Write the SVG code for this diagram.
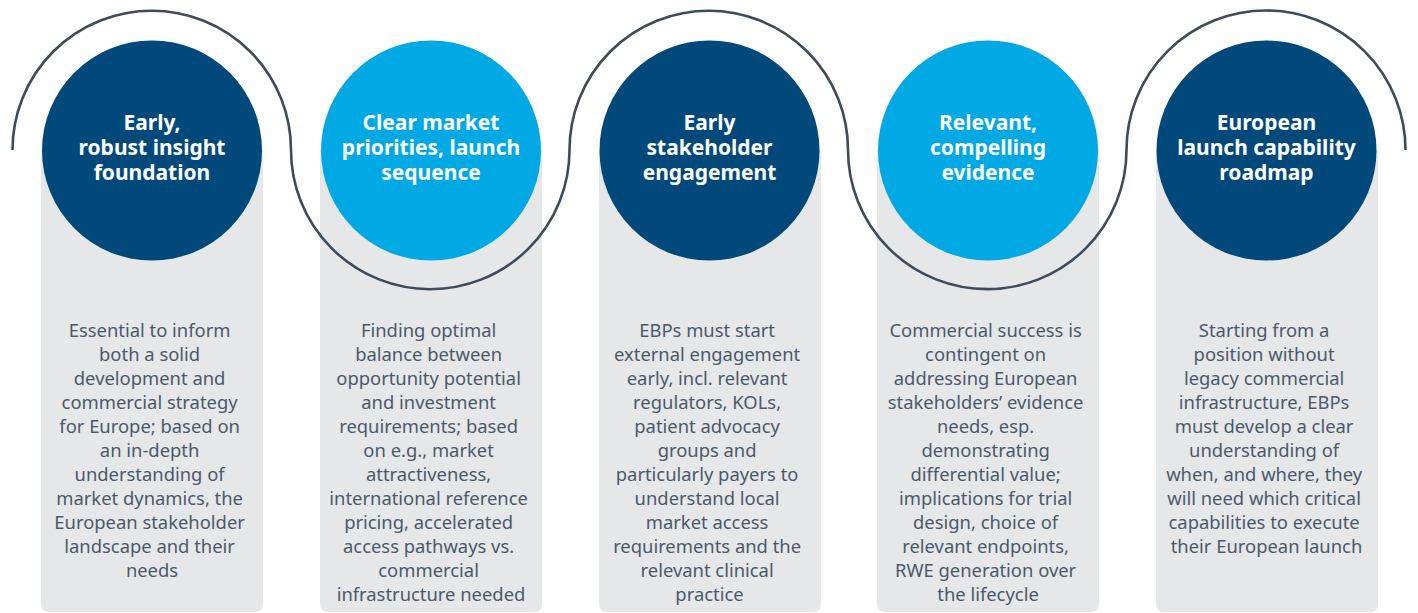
<svg xmlns="http://www.w3.org/2000/svg" width="1418" height="613" viewBox="0 0 1418 613">
<style>
.panel{fill:#e6e7e9}
.dark{fill:#02497b}
.light{fill:#00a9e3}
.wave{fill:none;stroke:#3d4c5c;stroke-width:2.6}
.head{font-family:"Noto Sans","Open Sans",sans-serif;font-weight:700;font-size:21px;fill:#ffffff;text-anchor:middle}
.body{font-family:"Noto Sans","Open Sans",sans-serif;font-size:18.4px;fill:#4a5a6b;text-anchor:middle}
</style>
<rect width="1418" height="613" fill="#ffffff"/>
<g id="panels">
<path class="panel" d="M41,150 H263 V604 Q263,612 255,612 H49 Q41,612 41,604 Z"/>
<path class="panel" d="M320,150 H542 V604 Q542,612 534,612 H328 Q320,612 320,604 Z"/>
<path class="panel" d="M599,150 H821 V604 Q821,612 813,612 H607 Q599,612 599,604 Z"/>
<path class="panel" d="M877,150 H1099 V604 Q1099,612 1091,612 H885 Q877,612 877,604 Z"/>
<path class="panel" d="M1156,150 H1378 V604 Q1378,612 1370,612 H1164 Q1156,612 1156,604 Z"/>
</g>
<g id="connectors">
<path class="wave" d="M12.5,150 A139.2,139.2 0 0 1 291,150 A139.2,139.2 0 0 0 569.5,150 A139.2,139.2 0 0 1 848,150 A139.2,139.2 0 0 0 1126.5,150 A139.2,139.2 0 0 1 1405.5,150"/>
</g>
<g id="node1">
<circle class="dark" cx="152" cy="150.5" r="110"/>
<text class="head"><tspan x="152" y="130">Early,</tspan><tspan x="152" y="155">robust insight</tspan><tspan x="152" y="180">foundation</tspan></text>
<text class="body">
<tspan x="152" y="337">Essential to inform</tspan>
<tspan x="152" y="361">both a solid</tspan>
<tspan x="152" y="385">development and</tspan>
<tspan x="152" y="409">commercial strategy</tspan>
<tspan x="152" y="433">for Europe; based on</tspan>
<tspan x="152" y="457">an in-depth</tspan>
<tspan x="152" y="481">understanding of</tspan>
<tspan x="152" y="505">market dynamics, the</tspan>
<tspan x="152" y="529">European stakeholder</tspan>
<tspan x="152" y="553">landscape and their</tspan>
<tspan x="152" y="577">needs</tspan>
</text>
</g>
<g id="node2">
<circle class="light" cx="431" cy="150.5" r="110"/>
<text class="head"><tspan x="431" y="130">Clear market</tspan><tspan x="431" y="155">priorities, launch</tspan><tspan x="431" y="180">sequence</tspan></text>
<text class="body">
<tspan x="431" y="337">Finding optimal</tspan>
<tspan x="431" y="361">balance between</tspan>
<tspan x="431" y="385">opportunity potential</tspan>
<tspan x="431" y="409">and investment</tspan>
<tspan x="431" y="433">requirements; based</tspan>
<tspan x="431" y="457">on e.g., market</tspan>
<tspan x="431" y="481">attractiveness,</tspan>
<tspan x="431" y="505">international reference</tspan>
<tspan x="431" y="529">pricing, accelerated</tspan>
<tspan x="431" y="553">access pathways vs.</tspan>
<tspan x="431" y="577">commercial</tspan>
<tspan x="431" y="601">infrastructure needed</tspan>
</text>
</g>
<g id="node3">
<circle class="dark" cx="709.5" cy="150.5" r="110"/>
<text class="head"><tspan x="709.5" y="130">Early</tspan><tspan x="709.5" y="155">stakeholder</tspan><tspan x="709.5" y="180">engagement</tspan></text>
<text class="body">
<tspan x="709.5" y="337">EBPs must start</tspan>
<tspan x="709.5" y="361">external engagement</tspan>
<tspan x="709.5" y="385">early, incl. relevant</tspan>
<tspan x="709.5" y="409">regulators, KOLs,</tspan>
<tspan x="709.5" y="433">patient advocacy</tspan>
<tspan x="709.5" y="457">groups and</tspan>
<tspan x="709.5" y="481">particularly payers to</tspan>
<tspan x="709.5" y="505">understand local</tspan>
<tspan x="709.5" y="529">market access</tspan>
<tspan x="709.5" y="553">requirements and the</tspan>
<tspan x="709.5" y="577">relevant clinical</tspan>
<tspan x="709.5" y="601">practice</tspan>
</text>
</g>
<g id="node4">
<circle class="light" cx="988" cy="150.5" r="110"/>
<text class="head"><tspan x="988" y="130">Relevant,</tspan><tspan x="988" y="155">compelling</tspan><tspan x="988" y="180">evidence</tspan></text>
<text class="body">
<tspan x="988" y="337">Commercial success is</tspan>
<tspan x="988" y="361">contingent on</tspan>
<tspan x="988" y="385">addressing European</tspan>
<tspan x="988" y="409">stakeholders’ evidence</tspan>
<tspan x="988" y="433">needs, esp.</tspan>
<tspan x="988" y="457">demonstrating</tspan>
<tspan x="988" y="481">differential value;</tspan>
<tspan x="988" y="505">implications for trial</tspan>
<tspan x="988" y="529">design, choice of</tspan>
<tspan x="988" y="553">relevant endpoints,</tspan>
<tspan x="988" y="577">RWE generation over</tspan>
<tspan x="988" y="601">the lifecycle</tspan>
</text>
</g>
<g id="node5">
<circle class="dark" cx="1266.5" cy="150.5" r="110"/>
<text class="head"><tspan x="1266.5" y="130">European</tspan><tspan x="1266.5" y="155">launch capability</tspan><tspan x="1266.5" y="180">roadmap</tspan></text>
<text class="body">
<tspan x="1266.5" y="337">Starting from a</tspan>
<tspan x="1266.5" y="361">position without</tspan>
<tspan x="1266.5" y="385">legacy commercial</tspan>
<tspan x="1266.5" y="409">infrastructure, EBPs</tspan>
<tspan x="1266.5" y="433">must develop a clear</tspan>
<tspan x="1266.5" y="457">understanding of</tspan>
<tspan x="1266.5" y="481">when, and where, they</tspan>
<tspan x="1266.5" y="505">will need which critical</tspan>
<tspan x="1266.5" y="529">capabilities to execute</tspan>
<tspan x="1266.5" y="553">their European launch</tspan>
</text>
</g>
</svg>
